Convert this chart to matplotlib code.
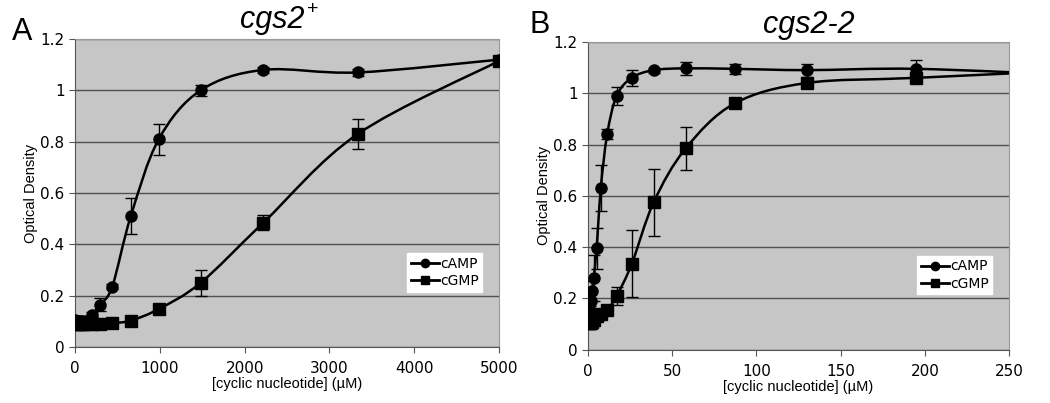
import matplotlib.pyplot as plt
import numpy as np
from matplotlib.path import Path
from matplotlib.patches import PathPatch
from matplotlib.lines import Line2D

# Panel A (cgs2+)
xA = [0, 39, 58, 87, 130, 195, 293, 439, 658, 988, 1481, 2222, 3333, 5000]
campA = [0.105, 0.10, 0.10, 0.10, 0.10, 0.125, 0.165, 0.235, 0.51, 0.81, 1.00, 1.08, 1.07, 1.12]
campA_err = [0.01, 0.0, 0.0, 0.0, 0.0, 0.01, 0.025, 0.01, 0.07, 0.06, 0.02, 0.012, 0.015, 0.01]
cgmpA = [0.09, 0.09, 0.09, 0.09, 0.09, 0.09, 0.09, 0.093, 0.103, 0.148, 0.25, 0.485, 0.83, 1.115]
cgmpA_err = [0.0, 0.0, 0.0, 0.0, 0.0, 0.0, 0.0, 0.0, 0.01, 0.01, 0.05, 0.03, 0.06, 0.01]

# Panel B (cgs2-2)
xB = [0.3, 0.67, 1.0, 1.5, 2.3, 3.4, 5.1, 7.6, 11.4, 17, 26, 39, 58, 87, 130, 195, 292]
campB = [0.12, 0.13, 0.15, 0.19, 0.23, 0.28, 0.395, 0.63, 0.84, 0.99, 1.06, 1.09, 1.097, 1.095, 1.09, 1.095, 1.07]
campB_err = [0.0, 0.0, 0.02, 0.03, 0.04, 0.09, 0.08, 0.09, 0.02, 0.035, 0.03, 0.01, 0.025, 0.02, 0.025, 0.035, 0.0]
cgmpB = [0.105, 0.105, 0.105, 0.105, 0.11, 0.115, 0.13, 0.14, 0.155, 0.21, 0.335, 0.575, 0.785, 0.96, 1.04, 1.06, 1.09]
cgmpB_err = [0.0, 0.0, 0.0, 0.0, 0.0, 0.02, 0.01, 0.01, 0.01, 0.035, 0.13, 0.13, 0.085, 0.01, 0.01, 0.015, 0.0]

yticks = [0, 0.2, 0.4, 0.6, 0.8, 1, 1.2]
ylabels = ['0', '0.2', '0.4', '0.6', '0.8', '1', '1.2']


def smooth_line(ax, x, y):
    # Excel-style smoothed line: cubic Bezier segments through the points
    x = np.asarray(x, float)
    y = np.asarray(y, float)
    P = np.column_stack([x, y])
    n = len(P)
    verts = [P[0]]
    codes = [Path.MOVETO]
    for i in range(n - 1):
        p0 = P[i - 1] if i > 0 else P[i]
        p3 = P[i + 2] if i + 2 < n else P[i + 1]
        c1 = P[i] + (P[i + 1] - p0) / 6.0
        c2 = P[i + 1] - (p3 - P[i]) / 6.0
        verts += [c1, c2, P[i + 1]]
        codes += [Path.CURVE4] * 3
    patch = PathPatch(Path(verts, codes), facecolor='none', edgecolor='black',
                      lw=1.8, zorder=3)
    ax.add_patch(patch)


def panel(ax, x, camp, camp_err, cgmp, cgmp_err, xmax, xstep):
    ax.set_facecolor('#c6c6c6')
    ax.set_xlim(0, xmax)
    ax.set_ylim(0, 1.2)
    ax.set_yticks(yticks)
    ax.set_yticklabels(ylabels)
    ax.set_xticks(np.arange(0, xmax + 1, xstep))
    ax.yaxis.grid(True, color='#505050', lw=1.0)
    ax.set_axisbelow(True)
    for s in ax.spines.values():
        s.set_color('#999999')
    ax.spines['left'].set_color('#555555')
    ax.spines['bottom'].set_color('#555555')
    ax.tick_params(labelsize=11, color='#555555', length=4, direction='out')
    ax.tick_params(axis='x', pad=6)

    smooth_line(ax, x, cgmp)
    smooth_line(ax, x, camp)
    ax.errorbar(x, cgmp, yerr=cgmp_err, fmt='s', color='black', ms=8,
                elinewidth=1, capsize=4, capthick=1, zorder=4, clip_on=True)
    ax.errorbar(x, camp, yerr=camp_err, fmt='o', color='black', ms=8,
                elinewidth=1, capsize=4, capthick=1, zorder=5, clip_on=True)

    ax.set_xlabel('[cyclic nucleotide] (\u00b5M)', fontsize=10.5,
                  family='Liberation Sans', labelpad=1)
    ax.set_ylabel('Optical Density', fontsize=10.5, family='Liberation Sans',
                  labelpad=2)

    handles = [Line2D([], [], color='black', marker='o', ms=6, lw=2),
               Line2D([], [], color='black', marker='s', ms=6, lw=2)]
    ax.legend(handles, ['cAMP', 'cGMP'], loc='lower right',
              bbox_to_anchor=(0.96, 0.18), fontsize=10,
              frameon=True, fancybox=False, framealpha=1,
              edgecolor='white', handlelength=2.0, handletextpad=0.1,
              borderpad=0.25, labelspacing=0.25, borderaxespad=0)


fig = plt.figure(figsize=(10.5, 4.03), dpi=100)
axA = fig.add_axes([0.0714, 0.139, 0.404, 0.764])
axB = fig.add_axes([0.560, 0.132, 0.401, 0.764])

panel(axA, xA, campA, campA_err, cgmpA, cgmpA_err, 5000, 1000)
panel(axB, xB, campB, campB_err, cgmpB, cgmpB_err, 250, 50)

# titles
axA.text(0.542, 1.036, 'cgs2', transform=axA.transAxes, fontsize=22,
         style='italic', family='Liberation Sans', ha='right', va='baseline')
axA.text(0.546, 1.08, '+', transform=axA.transAxes, fontsize=14,
         family='Liberation Sans', ha='left', va='baseline')
axB.text(0.525, 1.03, 'cgs2-2', transform=axB.transAxes, fontsize=22,
         style='italic', family='Liberation Sans', ha='center', va='baseline')

# panel letters
axA.text(-0.149, 0.997, 'A', transform=axA.transAxes, fontsize=22,
         family='Liberation Sans', ha='left', va='baseline')
axB.text(-0.138, 1.03, 'B', transform=axB.transAxes, fontsize=22,
         family='Liberation Sans', ha='left', va='baseline')

fig.savefig('out.png', dpi=100)
